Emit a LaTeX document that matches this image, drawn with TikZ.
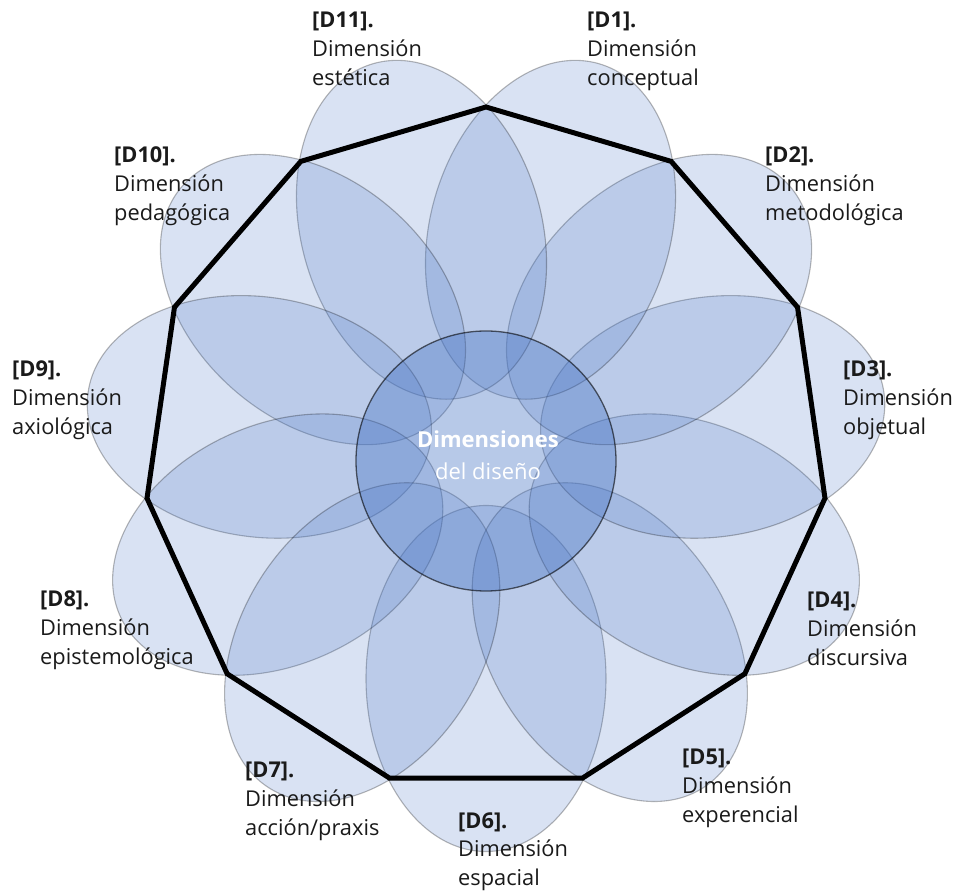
\documentclass[tikz,border=0pt]{standalone}
\usepackage{fontspec}
\setmainfont{Open Sans}
\usetikzlibrary{calc}
\definecolor{petalblue}{RGB}{68,114,196}
\definecolor{txt}{RGB}{26,26,26}
\newcommand{\dimlabel}[3]{\begin{tabular}[t]{@{}l@{}}\textbf{#1}\\#2\\#3\end{tabular}}
\tikzset{
  petal/.style={fill=petalblue, fill opacity=0.2, draw=black, draw opacity=0.28, line width=1.1pt},
  centre/.style={circle, fill=petalblue, fill opacity=0.38, draw=black, draw opacity=0.6, line width=1.3pt, minimum size=260pt, inner sep=0pt},
  poly/.style={draw=black, line width=5pt, line join=miter},
  dlabel/.style={anchor=base west, inner sep=0pt, text=txt, font=\fontsize{21.8pt}{28.8pt}\selectfont},
  ctext/.style={anchor=base, inner sep=0pt, text=white, font=\fontsize{22pt}{32pt}\selectfont}
}
\begin{document}
\begin{tikzpicture}[x=1pt,y=1pt]
\useasboundingbox (0,0) rectangle (956,892);
\fill[white] (0,0) rectangle (956,892);
\coordinate (O) at (486,442.5);
% petals
\foreach \k in {0,...,10}{
  \pgfmathsetmacro{\a}{-90+\k*360/11}
  \begin{scope}[shift={(O)}, rotate=\a]
    \draw[petal] (229,0) ellipse [x radius=173, y radius=120];
  \end{scope}
}
% central circle
\node[centre] (c) at (486,431) {};
\node[ctext] (ct) at (488,444) {\begin{tabular}[t]{@{}c@{}}\textbf{Dimensiones}\\del diseño\end{tabular}};
% polygon
\foreach \k in {0,...,10}{
  \coordinate (v\k) at ($(O)+({90-\k*360/11}:342.5)$);
}
\draw[poly] (v0)--(v1)--(v2)--(v3)--(v4)--(v5)--(v6)--(v7)--(v8)--(v9)--(v10)--cycle;
% labels
\node[dlabel] (d1) at (587,864) {\dimlabel{[D1].}{Dimensión}{conceptual}};
\node[dlabel] (d2) at (765,729) {\dimlabel{[D2].}{Dimensión}{metodológica}};
\node[dlabel] (d3) at (843,515) {\dimlabel{[D3].}{Dimensión}{objetual}};
\node[dlabel] (d4) at (807,284) {\dimlabel{[D4].}{Dimensión}{discursiva}};
\node[dlabel] (d5) at (682,127) {\dimlabel{[D5].}{Dimensión}{experencial}};
\node[dlabel] (d6) at (458,64) {\dimlabel{[D6].}{Dimensión}{espacial}};
\node[dlabel] (d7) at (245,114) {\dimlabel{[D7].}{Dimensión}{acción/praxis}};
\node[dlabel] (d8) at (40,285) {\dimlabel{[D8].}{Dimensión}{epistemológica}};
\node[dlabel] (d9) at (12,515) {\dimlabel{[D9].}{Dimensión}{axiológica}};
\node[dlabel] (d10) at (114,729) {\dimlabel{[D10].}{Dimensión}{pedagógica}};
\node[dlabel] (d11) at (312,864) {\dimlabel{[D11].}{Dimensión}{estética}};
\end{tikzpicture}
\end{document}
